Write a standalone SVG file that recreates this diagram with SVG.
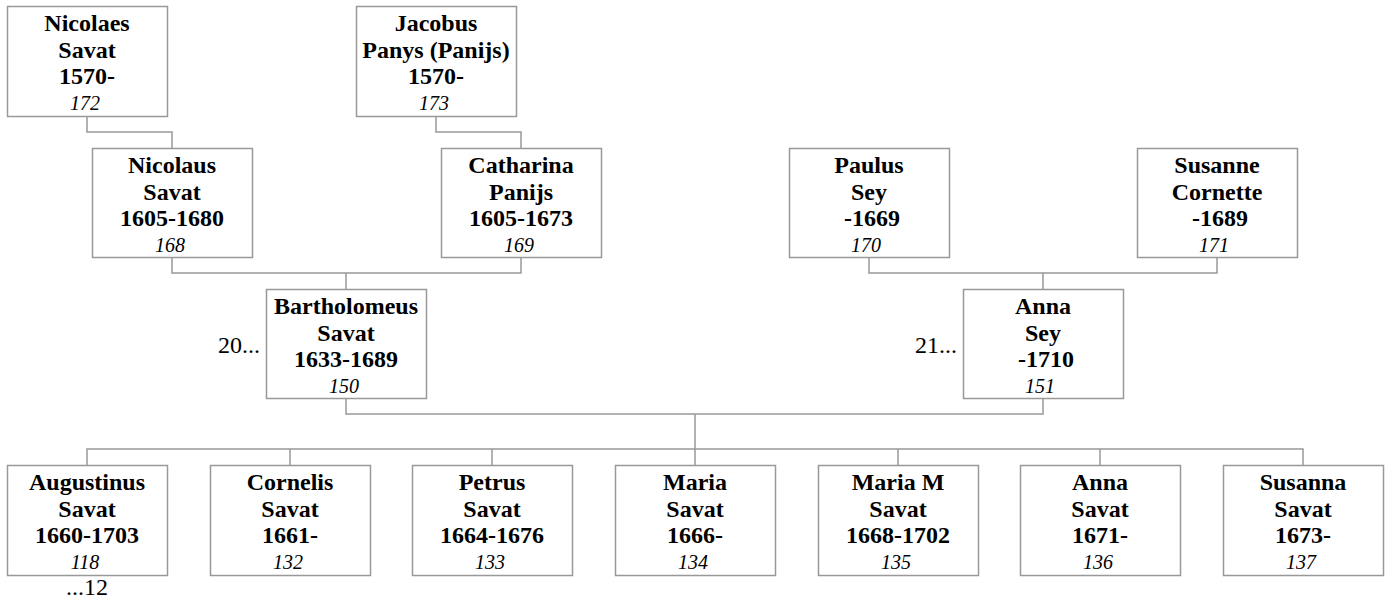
<svg xmlns="http://www.w3.org/2000/svg" width="1388" height="601" viewBox="0 0 1388 601">
<style>
.box{fill:#fff;stroke:#999;stroke-width:1.5}
.ln{fill:none;stroke:#999;stroke-width:1.5}
text{font-family:'Liberation Serif','Times New Roman',serif;fill:#000}
.b{font-weight:bold;font-size:24px;text-anchor:middle}
.i{font-style:italic;font-size:20px;text-anchor:middle}
.n{font-size:24px}
</style>
<rect width="1388" height="601" fill="#fff"/>
<g id="connectors">
<path class="ln" d="M87,116V132H172V148"/>
<path class="ln" d="M436,116V132H521V148"/>
<path class="ln" d="M172,257V273H521V257M346,273V289"/>
<path class="ln" d="M869,257V273H1217V257M1043,273V289"/>
<path class="ln" d="M346,398V414H1043V398M695,414V449"/>
<path class="ln" d="M87,465V449H1303V465M290,449V465M492,449V465M695,449V465M898,449V465M1100,449V465"/>
</g>
<g id="n172"><rect class="box" x="7.5" y="6.5" width="160" height="110"/>
<text class="b" x="87" y="31">Nicolaes</text><text class="b" x="87" y="57.5">Savat</text><text class="b" x="87" y="84">1570-</text><text class="i" x="85" y="110">172</text></g>
<g id="n173"><rect class="box" x="356.5" y="6.5" width="160" height="110"/>
<text class="b" x="436" y="31">Jacobus</text><text class="b" x="436" y="57.5">Panys (Panijs)</text><text class="b" x="436" y="84">1570-</text><text class="i" x="434" y="110">173</text></g>
<g id="n168"><rect class="box" x="92.5" y="148.5" width="160" height="109"/>
<text class="b" x="172" y="173">Nicolaus</text><text class="b" x="172" y="199.5">Savat</text><text class="b" x="172" y="226">1605-1680</text><text class="i" x="170" y="252">168</text></g>
<g id="n169"><rect class="box" x="441.5" y="148.5" width="160" height="109"/>
<text class="b" x="521" y="173">Catharina</text><text class="b" x="521" y="199.5">Panijs</text><text class="b" x="521" y="226">1605-1673</text><text class="i" x="519" y="252">169</text></g>
<g id="n170"><rect class="box" x="789.5" y="148.5" width="160" height="109"/>
<text class="b" x="869" y="173">Paulus</text><text class="b" x="869" y="199.5">Sey</text><text class="b" x="872" y="226">-1669</text><text class="i" x="866" y="252">170</text></g>
<g id="n171"><rect class="box" x="1137.5" y="148.5" width="160" height="109"/>
<text class="b" x="1217" y="173">Susanne</text><text class="b" x="1217" y="199.5">Cornette</text><text class="b" x="1220" y="226">-1689</text><text class="i" x="1214" y="252">171</text></g>
<g id="n150"><rect class="box" x="266.5" y="289.5" width="160" height="109"/>
<text class="b" x="346" y="314">Bartholomeus</text><text class="b" x="346" y="340.5">Savat</text><text class="b" x="346" y="367">1633-1689</text><text class="i" x="344" y="393">150</text>
<text class="n" x="260" y="353" text-anchor="end">20...</text></g>
<g id="n151"><rect class="box" x="963.5" y="289.5" width="160" height="109"/>
<text class="b" x="1043" y="314">Anna</text><text class="b" x="1043" y="340.5">Sey</text><text class="b" x="1046" y="367">-1710</text><text class="i" x="1040" y="393">151</text>
<text class="n" x="957" y="353" text-anchor="end">21...</text></g>
<g id="n118"><rect class="box" x="7.5" y="465.5" width="160" height="110"/>
<text class="b" x="87" y="490">Augustinus</text><text class="b" x="87" y="516.5">Savat</text><text class="b" x="87" y="543">1660-1703</text><text class="i" x="85" y="569">118</text>
<text class="n" x="87" y="595" text-anchor="middle">...12</text></g>
<g id="n132"><rect class="box" x="210.5" y="465.5" width="160" height="110"/>
<text class="b" x="290" y="490">Cornelis</text><text class="b" x="290" y="516.5">Savat</text><text class="b" x="290" y="543">1661-</text><text class="i" x="288" y="569">132</text></g>
<g id="n133"><rect class="box" x="412.5" y="465.5" width="160" height="110"/>
<text class="b" x="492" y="490">Petrus</text><text class="b" x="492" y="516.5">Savat</text><text class="b" x="492" y="543">1664-1676</text><text class="i" x="490" y="569">133</text></g>
<g id="n134"><rect class="box" x="615.5" y="465.5" width="160" height="110"/>
<text class="b" x="695" y="490">Maria</text><text class="b" x="695" y="516.5">Savat</text><text class="b" x="695" y="543">1666-</text><text class="i" x="693" y="569">134</text></g>
<g id="n135"><rect class="box" x="818.5" y="465.5" width="160" height="110"/>
<text class="b" x="898" y="490">Maria M</text><text class="b" x="898" y="516.5">Savat</text><text class="b" x="898" y="543">1668-1702</text><text class="i" x="896" y="569">135</text></g>
<g id="n136"><rect class="box" x="1020.5" y="465.5" width="160" height="110"/>
<text class="b" x="1100" y="490">Anna</text><text class="b" x="1100" y="516.5">Savat</text><text class="b" x="1100" y="543">1671-</text><text class="i" x="1098" y="569">136</text></g>
<g id="n137"><rect class="box" x="1223.5" y="465.5" width="160" height="110"/>
<text class="b" x="1303" y="490">Susanna</text><text class="b" x="1303" y="516.5">Savat</text><text class="b" x="1303" y="543">1673-</text><text class="i" x="1301" y="569">137</text></g>
</svg>
